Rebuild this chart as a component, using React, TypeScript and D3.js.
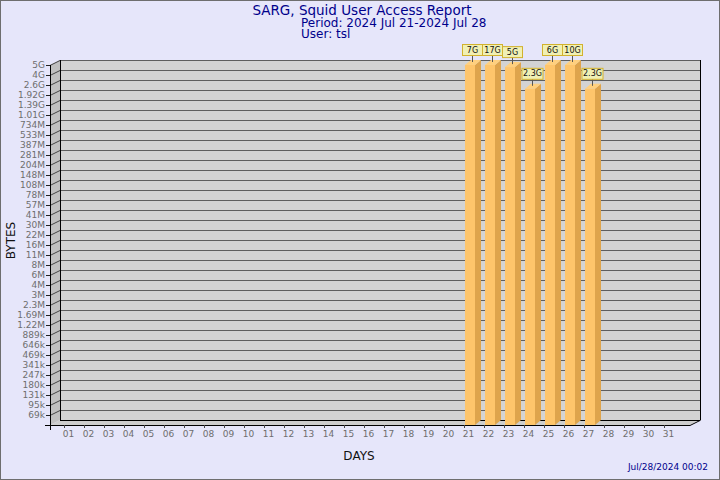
import * as d3 from "d3";

const days = [
  "01", "02", "03", "04", "05", "06", "07", "08", "09", "10",
  "11", "12", "13", "14", "15", "16", "17", "18", "19", "20",
  "21", "22", "23", "24", "25", "26", "27", "28", "29", "30", "31",
];

const yTickLabels = [
  "5G", "4G", "2.6G", "1.92G", "1.39G", "1.01G", "734M", "533M", "387M",
  "281M", "204M", "148M", "108M", "78M", "57M", "41M", "30M", "22M", "16M",
  "11M", "8M", "6M", "4M", "3M", "2.3M", "1.69M", "1.22M", "889k", "646k",
  "469k", "341k", "247k", "180k", "131k", "95k", "69k",
];

const barDays = ["21", "22", "23", "24", "25", "26", "27"];
const barBytes = [7e9, 17e9, 4.6e9, 2.3e9, 6e9, 10e9, 2.3e9];
const barLabels = ["7G", "17G", "5G", "2.3G", "6G", "10G", "2.3G"];

const W = 720;
const H = 480;
const FONT = "DejaVu Sans, sans-serif";

// 3d box: front plane corners and depth offset of the back wall
const frontLeft = 50;
const frontRight = 690;
const top = 65;
const base = 425;
const depthX = 10;
const depthY = 5;
const barDX = 6;
const barDY = 5;

export default function App() {
  const x = d3.scaleBand<string>().domain(days).range([64, 684]);
  const y = d3.scaleLog().domain([50e3, 4.92e9]).range([base, top]).clamp(true);
  const yTick = d3.scalePoint<string>().domain(yTickLabels).range([top, 415]);

  const backL = frontLeft + depthX;
  const backR = frontRight + depthX;
  const backT = top - depthY;
  const backB = base - depthY;

  return (
    <svg
      width={W}
      height={H}
      style={{ position: "absolute", left: 0, top: 0 }}
      fontFamily={FONT}
    >
      <rect x={0.5} y={0.5} width={W - 1} height={H - 1} fill="#e6e6fa" stroke="#6e6e6e" />

      {/* walls */}
      <polygon
        points={`${frontLeft},${top} ${backL},${backT} ${backL},${backB} ${frontLeft},${base}`}
        fill="#c0c0c0"
      />
      <rect x={backL} y={backT} width={backR - backL} height={backB - backT} fill="#d3d3d3" />
      <polygon
        points={`${frontLeft},${base} ${backL},${backB} ${backR},${backB} ${frontRight},${base}`}
        fill="#cdcdcd"
      />

      {/* grid */}
      {yTickLabels.map((t) => {
        const ty = yTick(t)!;
        return (
          <g key={t}>
            <line x1={backL} x2={backR} y1={ty - depthY + 0.5} y2={ty - depthY + 0.5} stroke="#5e5e5e" />
            <line x1={frontLeft} y1={ty + 0.5} x2={backL} y2={ty - depthY + 0.5} stroke="#444" />
            <line x1={46} x2={frontLeft} y1={ty + 0.5} y2={ty + 0.5} stroke="#222" />
            <text
              x={45}
              y={ty}
              dy="0.35em"
              textAnchor="end"
              fontSize={9}
              fill="#6e6e6e"
            >
              {t}
            </text>
          </g>
        );
      })}

      <line x1={backL + 0.5} x2={backL + 0.5} y1={backT} y2={backB} stroke="#000" />
      <line x1={backR + 0.5} x2={backR + 0.5} y1={backT} y2={backB + 0.5} stroke="#000" />
      <line x1={backL} x2={backR} y1={backB + 0.5} y2={backB + 0.5} stroke="#000" />

      {/* axes */}
      <line x1={frontLeft + 0.5} x2={frontLeft + 0.5} y1={top} y2={base + 5} stroke="#000" />
      <line x1={45} x2={frontRight} y1={base + 0.5} y2={base + 0.5} stroke="#000" />
      <line x1={frontRight} y1={base + 0.5} x2={backR} y2={backB + 0.5} stroke="#000" />

      {days.map((d) => {
        const tx = x(d)!;
        return (
          <g key={d}>
            <line x1={tx + 0.5} x2={tx + 0.5} y1={base} y2={base + 3} stroke="#444" />
            <text x={tx + 4.5} y={437} textAnchor="middle" fontSize={9} fill="#6e6e6e">
              {d}
            </text>
          </g>
        );
      })}

      {/* bars */}
      {barDays.map((d, i) => {
        const x0 = x(d)! + 1;
        const x1 = x0 + 10;
        const yt = y(barBytes[i]);
        return (
          <g key={d}>
            <polygon
              points={`${x1},${yt} ${x1 + barDX},${yt - barDY} ${x1 + barDX},${base - barDY} ${x1},${base}`}
              fill="#dea44c"
            />
            <polygon
              points={`${x0},${yt} ${x0 + barDX},${yt - barDY} ${x1 + barDX},${yt - barDY} ${x1},${yt}`}
              fill="#ffd07e"
            />
            <rect x={x0} y={yt} width={x1 - x0} height={base - yt} fill="#fec56b" />
          </g>
        );
      })}

      {/* value labels */}
      {barDays.map((d, i) => {
        const cx = x(d)! + 8.5;
        const yt = y(barBytes[i]);
        const bw = Math.max(20, barLabels[i].length * 5 + 1);
        return (
          <g key={"l" + d}>
            <line x1={cx} x2={cx} y1={yt - 10} y2={yt - 3} stroke="#555" />
            <rect
              x={cx - bw / 2}
              y={yt - 20.5}
              width={bw}
              height={11}
              fill="#f0f0b4"
              stroke="#d2b22e"
            />
            <text x={cx} y={yt - 12.5} textAnchor="middle" fontSize={8} fill="#111">
              {barLabels[i]}
            </text>
          </g>
        );
      })}

      {/* titles */}
      <text x={362} y={14.5} textAnchor="middle" fontSize={13.5} fill="#00008b">
        SARG, Squid User Access Report
      </text>
      <text x={301} y={27} fontSize={12} fill="#00008b">
        Period: 2024 Jul 21-2024 Jul 28
      </text>
      <text x={301} y={37.5} fontSize={12} fill="#00008b">
        User: tsl
      </text>
      <text
        transform="translate(15,240.5) rotate(-90)"
        textAnchor="middle"
        fontSize={12}
        fill="#111"
      >
        BYTES
      </text>
      <text x={359} y={460} textAnchor="middle" fontSize={12} fill="#111">
        DAYS
      </text>
      <text x={708} y={470} textAnchor="end" fontSize={9} fill="#00008b">
        Jul/28/2024 00:02
      </text>
    </svg>
  );
}
